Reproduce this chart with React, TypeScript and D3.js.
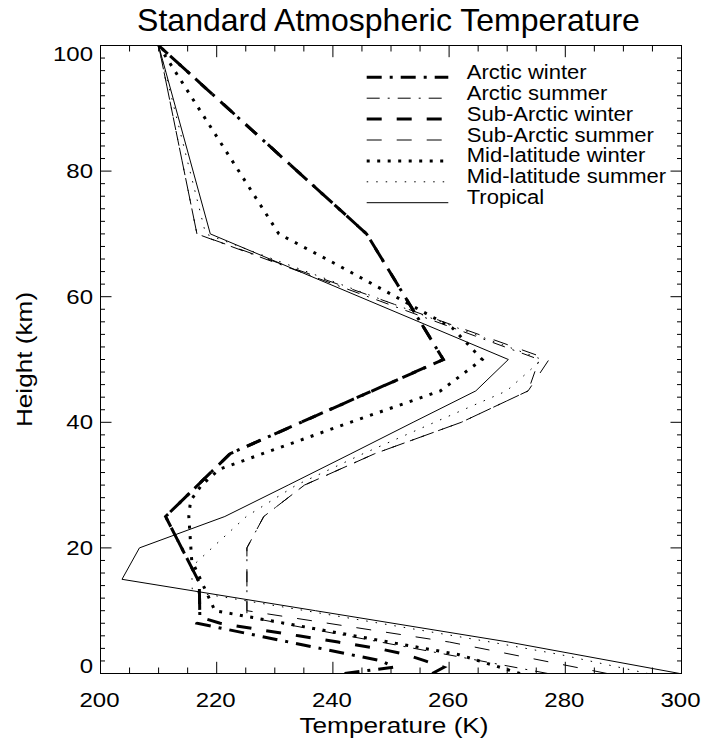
import React from "react";
import * as d3 from "d3";

// ---- data: [height km, temperature K] ----
const seriesNames = [
  "Arctic winter",
  "Arctic summer",
  "Sub-Arctic winter",
  "Sub-Arctic summer",
  "Mid-latitude winter",
  "Mid-latitude summer",
  "Tropical",
];

const arcticWinter: [number, number][] = [
  [0, 242], [1, 250.5], [2, 248.4], [8, 216.6], [9, 217.1], [14.5, 217.0],
  [25, 211.2], [35, 222.3], [50, 259.0], [70, 245.8], [100, 210],
];
const arcticSummer: [number, number][] = [
  [0, 277], [9, 225.2], [20, 225.2], [25, 228.1], [30, 235.1], [35, 247.2],
  [40, 262.1], [45, 273.6], [50, 275.5], [70, 216.6], [100, 210],
];
const subArcticWinter: [number, number][] = [
  [0, 257.1], [1, 259.1], [2, 255.9], [3, 252.7], [4, 247.7], [5, 240.9],
  [6, 234.1], [7, 227.3], [8, 220.6], [9, 217.1], [14.5, 217.0], [25, 211.2],
  [35, 222.3], [50, 259.0], [70, 245.8], [100, 210],
];
const subArcticSummer: [number, number][] = [
  [0, 287.2], [5, 260.1], [10, 225.2], [20, 225.2], [25, 228.1], [30, 235.1],
  [35, 247.2], [40, 262.1], [45, 273.6], [50, 277.2], [70, 216.6], [100, 210],
];
const midLatWinter: [number, number][] = [
  [0, 272.2], [3, 261.7], [4, 255.7], [10, 219.7], [18, 215.7], [25, 215.2],
  [27.5, 215.5], [30, 217.4], [32.5, 220.4], [35, 227.9], [40, 243.0],
  [45, 258.5], [50, 265.7], [55, 260.6], [60, 250.8], [65, 240.9], [70, 230.7],
  [100, 210],
];
const midLatSummer: [number, number][] = [
  [0, 294.2], [3, 279.2], [5, 267.2], [10, 235.3], [13, 215.8], [17, 215.7],
  [20, 219.2], [25, 225.1], [30, 233.7], [35, 245.2], [40, 257.5], [45, 269.9],
  [50, 276.0], [70, 218.1], [100, 210],
];
const tropical: [number, number][] = [
  [0, 299.7], [5, 270.3], [10, 237.0], [15, 203.7], [20, 206.7], [25, 221.4],
  [30, 232.3], [35, 243.1], [40, 253.8], [45, 264.6], [50, 270.2], [70, 218.9],
  [100, 210],
];

const seriesData = [
  arcticWinter, arcticSummer, subArcticWinter, subArcticSummer,
  midLatWinter, midLatSummer, tropical,
];

const xDomain = [200, 300];
const yDomain = [0, 100];

// ---- styles ----
const styles = [
  { w: 3, dash: "15 8 3 8" },
  { w: 1, dash: "13 8 2 8" },
  { w: 3, dash: "15 15" },
  { w: 1, dash: "15 15" },
  { w: 3, dash: "3 7.5" },
  { w: 1, dash: "1.5 8" },
  { w: 1, dash: "none" },
];

const W = 707;
const H = 743;
const L = 100.5, R = 681.5, T = 45.5, B = 673.5;
const FONT = "'Liberation Sans', Arial, Helvetica, sans-serif";

export default function App() {
  const x = d3.scaleLinear().domain(xDomain).range([L, R]);
  const y = d3.scaleLinear().domain(yDomain).range([B, T]);
  const line = d3
    .line<[number, number]>()
    .x((d) => x(d[1]))
    .y((d) => y(d[0]));

  const xMajor = x.ticks(5);
  const xMinor = x.ticks(20).filter((v) => !xMajor.includes(v));
  const yMajor = y.ticks(5);
  const yMinor = y.ticks(50).filter((v) => !yMajor.includes(v));

  const legY0 = 77.3;
  const legDy = 20.9;

  return (
    <svg
      width={W}
      height={H}
      viewBox={`0 0 ${W} ${H}`}
      style={{ position: "absolute", left: 0, top: 0, background: "#fff" }}
      fontFamily={FONT}
    >
      <rect x={0} y={0} width={W} height={H} fill="#fff" />
      <defs>
        <clipPath id="plot">
          <rect x={L} y={T} width={R - L} height={B - T} />
        </clipPath>
      </defs>

      {/* title */}
      <text x={388.5} y={31} fontSize={32} textAnchor="middle" fill="#000">
        Standard Atmospheric Temperature
      </text>

      {/* data lines */}
      <g clipPath="url(#plot)" fill="none" stroke="#000">
        {seriesData.map((s, i) => (
          <path
            key={i}
            d={line(s) || ""}
            strokeWidth={styles[i].w}
            strokeDasharray={styles[i].dash}
            strokeLinejoin="miter"
          />
        ))}
      </g>

      {/* frame */}
      <rect x={L} y={T} width={R - L} height={B - T} fill="none" stroke="#000" strokeWidth={1} />

      {/* x ticks */}
      <g stroke="#000" strokeWidth={1}>
        {xMajor.map((v) => (
          <g key={"xM" + v}>
            <line x1={x(v)} x2={x(v)} y1={B} y2={B - 11.7} />
            <line x1={x(v)} x2={x(v)} y1={T} y2={T + 11.7} />
          </g>
        ))}
        {xMinor.map((v) => (
          <g key={"xm" + v}>
            <line x1={x(v)} x2={x(v)} y1={B} y2={B - 6} />
            <line x1={x(v)} x2={x(v)} y1={T} y2={T + 6} />
          </g>
        ))}
        {yMajor.map((v) => (
          <g key={"yM" + v}>
            <line x1={L} x2={L + 11} y1={y(v)} y2={y(v)} />
            <line x1={R} x2={R - 11} y1={y(v)} y2={y(v)} />
          </g>
        ))}
        {yMinor.map((v) => (
          <g key={"ym" + v}>
            <line x1={L} x2={L + 4.5} y1={y(v)} y2={y(v)} />
            <line x1={R} x2={R - 4.5} y1={y(v)} y2={y(v)} />
          </g>
        ))}
      </g>

      {/* x tick labels */}
      {xMajor.map((v) => (
        <text
          key={"xl" + v}
          transform={`translate(${x(v) - 1},706.7) scale(1.2,1)`}
          fontSize={20}
          textAnchor="middle"
          fill="#000"
        >
          {v}
        </text>
      ))}
      {/* y tick labels */}
      {yMajor.map((v) => {
        const cy = Math.min(Math.max(y(v), T + 8), B - 8);
        return (
          <text
            key={"yl" + v}
            transform={`translate(93,${cy + 7}) scale(1.2,1)`}
            fontSize={20}
            textAnchor="end"
            fill="#000"
          >
            {v}
          </text>
        );
      })}

      {/* axis titles */}
      <text
        transform={`translate(${(L + R) / 2 + 3},733.3) scale(1.19,1)`}
        fontSize={22}
        textAnchor="middle"
        fill="#000"
      >
        Temperature (K)
      </text>
      <text
        transform={`translate(31.5,${(T + B) / 2}) rotate(-90) scale(1.19,1)`}
        fontSize={22}
        textAnchor="middle"
        fill="#000"
      >
        Height (km)
      </text>

      {/* legend */}
      {seriesNames.map((name, i) => {
        const ly = legY0 + i * legDy;
        return (
          <g key={"lg" + i}>
            <line
              x1={366.7}
              x2={448.3}
              y1={ly}
              y2={ly}
              stroke="#000"
              strokeWidth={styles[i].w}
              strokeDasharray={styles[i].dash}
            />
            <text
              transform={`translate(466.7,${ly + 1.5}) scale(1.13,1)`}
              fontSize={19.5}
              fill="#000"
            >
              {name}
            </text>
          </g>
        );
      })}
    </svg>
  );
}
